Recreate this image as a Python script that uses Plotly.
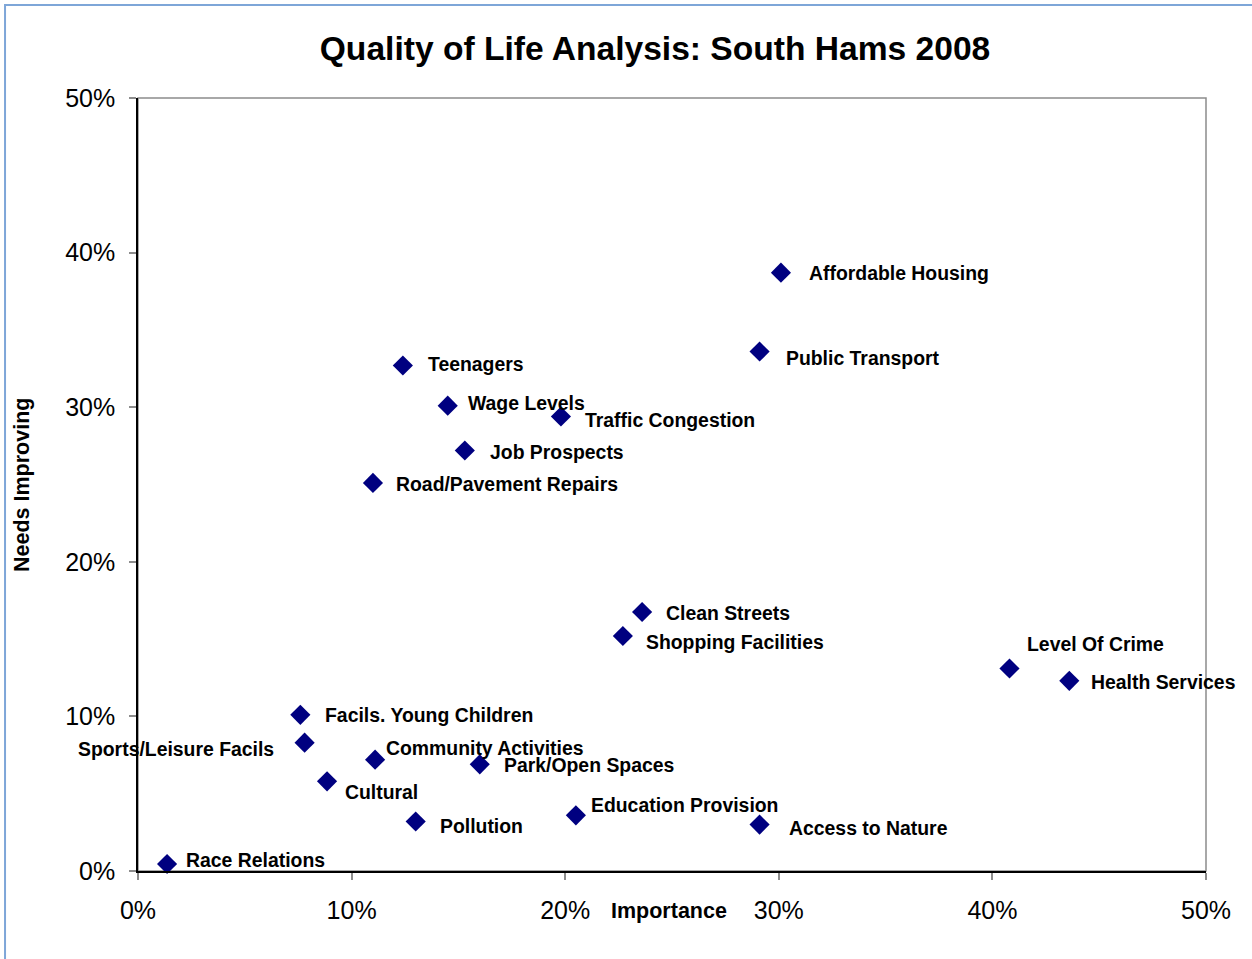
import plotly.graph_objects as go

# data (percent values)
names = [
    "Affordable Housing", "Public Transport", "Teenagers", "Wage Levels",
    "Traffic Congestion", "Job Prospects", "Road/Pavement Repairs",
    "Clean Streets", "Shopping Facilities", "Level Of Crime", "Health Services",
    "Facils. Young Children", "Sports/Leisure Facils", "Community Activities",
    "Park/Open Spaces", "Cultural", "Pollution", "Education Provision",
    "Access to Nature", "Race Relations",
]
importance = [30.1, 29.1, 12.4, 14.5, 19.8, 15.3, 11.0, 23.6, 22.7, 40.8, 43.6,
              7.6, 7.8, 11.1, 16.0, 8.85, 13.0, 20.5, 29.1, 1.36]
needs_improving = [38.7, 33.6, 32.7, 30.1, 29.4, 27.2, 25.1, 16.75, 15.2, 13.1, 12.3,
                   10.1, 8.3, 7.2, 6.9, 5.8, 3.2, 3.6, 3.0, 0.45]

x_ticks = [0, 10, 20, 30, 40, 50]
y_ticks = [0, 10, 20, 30, 40, 50]

# label placement (pixel offsets from marker, anchor side)
label_pos = {
    "Affordable Housing": (26, 0, "left"),
    "Public Transport": (24, -6, "left"),
    "Teenagers": (23, 1, "left"),
    "Wage Levels": (18, 3, "left"),
    "Traffic Congestion": (22, -4, "left"),
    "Job Prospects": (23, -2, "left"),
    "Road/Pavement Repairs": (21, -1, "left"),
    "Clean Streets": (22, -1, "left"),
    "Shopping Facilities": (21, -6, "left"),
    "Level Of Crime": (16, 24, "left"),
    "Health Services": (20, -1, "left"),
    "Facils. Young Children": (23, 0, "left"),
    "Sports/Leisure Facils": (-29, -6, "right"),
    "Community Activities": (9, 12, "left"),
    "Park/Open Spaces": (22, -1, "left"),
    "Cultural": (16, -11, "left"),
    "Pollution": (22, -4, "left"),
    "Education Provision": (13, 10, "left"),
    "Access to Nature": (27, -3, "left"),
    "Race Relations": (17, 4, "left"),
}

FONT = "Liberation Sans, Arial"

fig = go.Figure()
fig.add_trace(go.Scatter(
    x=[v / 100 for v in importance],
    y=[v / 100 for v in needs_improving],
    mode="markers",
    marker=dict(symbol="diamond", size=15.5, color="#000080"),
    cliponaxis=False,
    hovertext=names,
    showlegend=False,
))

for n, xv, yv in zip(names, importance, needs_improving):
    dx, dy, side = label_pos[n]
    fig.add_annotation(
        x=xv / 100, y=yv / 100, text="<b>%s</b>" % n, showarrow=False,
        xanchor=side, yanchor="middle", xshift=dx, yshift=dy,
        font=dict(family=FONT, size=19.4, color="black"),
    )

# axis titles
fig.add_annotation(
    x=(669 - 138) / 1068, y=(871 - 911) / 773, xref="paper", yref="paper",
    text="<b>Importance</b>", showarrow=False, xanchor="center", yanchor="middle",
    font=dict(family=FONT, size=21.5, color="black"),
)
fig.add_annotation(
    x=(22 - 138) / 1068, y=(871 - 485) / 773, xref="paper", yref="paper",
    text="<b>Needs Improving</b>", showarrow=False, textangle=-90,
    xanchor="center", yanchor="middle",
    font=dict(family=FONT, size=21.5, color="black"),
)

# grey plot border + light blue chart frame
fig.add_shape(type="rect", xref="paper", yref="paper", x0=0, x1=1, y0=0, y1=1,
              line=dict(color="#8c8c8c", width=1.5), layer="below")
fig.add_shape(type="rect", xref="paper", yref="paper", x0=-0.1245, x1=1.2, y0=-0.3, y1=1.1203,
              line=dict(color="#7ea6d8", width=2), layer="below")

fig.update_layout(
    width=1252, height=959,
    paper_bgcolor="white", plot_bgcolor="white",
    margin=dict(l=138, r=46, t=98, b=88),
    font=dict(family=FONT, color="black"),
    title=dict(text="<b>Quality of Life Analysis: South Hams 2008</b>",
               x=655 / 1252, xanchor="center", y=1 - 48 / 959, yanchor="middle",
               font=dict(size=33.6, color="black")),
    xaxis=dict(range=[0, 0.5], tickvals=[t / 100 for t in x_ticks],
               ticktext=["%d%%" % t for t in x_ticks],
               showgrid=False, zeroline=False, showline=True, linecolor="black", linewidth=1.5,
               ticks="outside", ticklen=7, tickcolor="#8c8c8c", tickwidth=1.5,
               ticklabelstandoff=9,
               tickfont=dict(size=25), fixedrange=True),
    yaxis=dict(range=[0, 0.5], tickvals=[t / 100 for t in y_ticks],
               ticktext=["%d%%" % t for t in y_ticks],
               showgrid=False, zeroline=False, showline=True, linecolor="black", linewidth=1.5,
               ticks="outside", ticklen=7, tickcolor="#8c8c8c", tickwidth=1.5,
               ticklabelstandoff=9,
               tickfont=dict(size=25), fixedrange=True),
)

fig.write_html("out.html", config={"displayModeBar": False},
               post_script="document.body.style.margin='0';")
